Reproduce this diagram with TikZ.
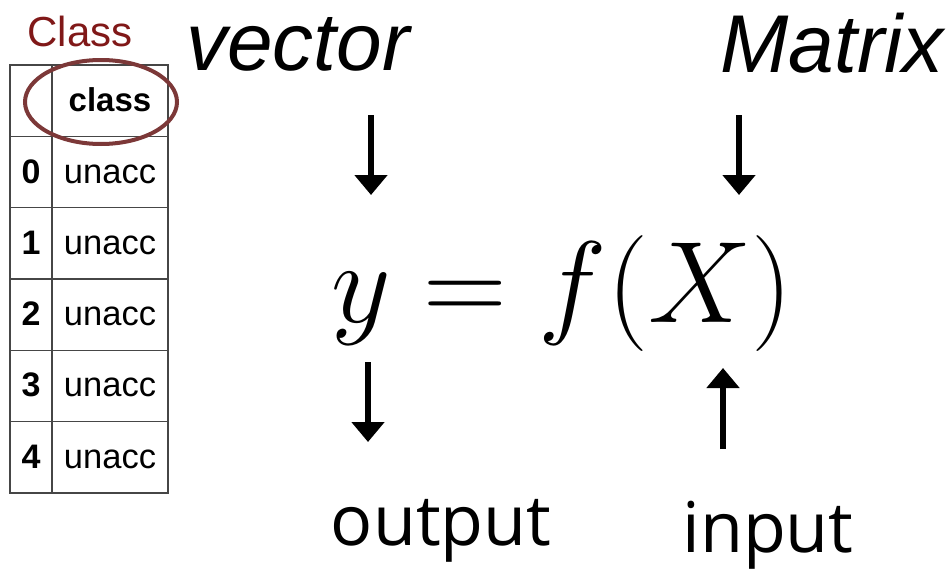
\RequirePackage{fix-cm}
\documentclass[tikz,border=0pt]{standalone}
\usepackage{fontspec}
\setmainfont{Liberation Sans}
\newfontfamily\labelfont{Open Sans}
\usetikzlibrary{arrows.meta, shapes.geometric}
\definecolor{classred}{RGB}{128,24,24}
\definecolor{circlebrown}{RGB}{124,56,56}
\definecolor{gridgray}{RGB}{70,70,70}

\begin{document}
\begin{tikzpicture}[x=1pt, y=-1pt,
  idxcell/.style={draw=gridgray, line width=1.4pt, rectangle, minimum width=42pt,
    minimum height=71.3pt, inner sep=0pt, text height=22pt, text depth=0pt,
    font=\fontsize{34}{36}\selectfont\bfseries},
  valcell/.style={draw=gridgray, line width=1.4pt, rectangle, minimum width=116pt,
    minimum height=71.3pt, inner sep=0pt, text height=22pt, text depth=0pt,
    font=\fontsize{34.5}{36}\selectfont},
  bigword/.style={anchor=base, inner sep=0pt, font=\fontsize{82}{90}\selectfont\itshape},
  plainword/.style={anchor=base, inner sep=0pt, font=\fontsize{70}{80}\selectfont\labelfont},
  pointer/.style={line width=6.5pt, -{Triangle[width=32pt, length=20pt]}}
]
\useasboundingbox (0,0) rectangle (947,570);

% table on the left
\node[anchor=base, inner sep=0pt, text=classred, font=\fontsize{42}{46}\selectfont]
  (title) at (80,46) {Class};
\node[idxcell] (h0) at (31,100.7) {};
\node[valcell, font=\fontsize{33}{36}\selectfont\bfseries] (h1) at (110,100.7) {class};
\node[idxcell] (r0) at (31,172.0) {0};
\node[valcell] (v0) at (110,172.0) {unacc};
\node[idxcell] (r1) at (31,243.3) {1};
\node[valcell] (v1) at (110,243.3) {unacc};
\node[idxcell] (r2) at (31,314.6) {2};
\node[valcell] (v2) at (110,314.6) {unacc};
\node[idxcell] (r3) at (31,385.9) {3};
\node[valcell] (v3) at (110,385.9) {unacc};
\node[idxcell] (r4) at (31,457.2) {4};
\node[valcell] (v4) at (110,457.2) {unacc};
\node[draw=circlebrown, line width=4pt, ellipse, minimum width=152pt,
  minimum height=84pt] (ring) at (101,102) {};

% labels and formula
\node[bigword] (vector) at (298,70) {vector};
\node[bigword] (matrix) at (832,72) {Matrix};
\node[anchor=base, inner sep=0pt, font=\fontsize{116}{120}\selectfont]
  (eq) at (562,322) {$y = f(X)$};
\node[plainword] (output) at (441,545) {output};
\node[plainword] (input) at (768,552) {input};

\coordinate (vec-a) at (371,115);
\coordinate (vec-b) at (371,195);
\coordinate (mat-a) at (739,115);
\coordinate (mat-b) at (739,195);
\coordinate (out-a) at (368,362);
\coordinate (out-b) at (368,442);
\coordinate (in-a) at (723,449);
\coordinate (in-b) at (723,368);

\draw[pointer] (vec-a) -- (vec-b);
\draw[pointer] (mat-a) -- (mat-b);
\draw[pointer] (out-a) -- (out-b);
\draw[pointer] (in-a) -- (in-b);
\end{tikzpicture}
\end{document}
